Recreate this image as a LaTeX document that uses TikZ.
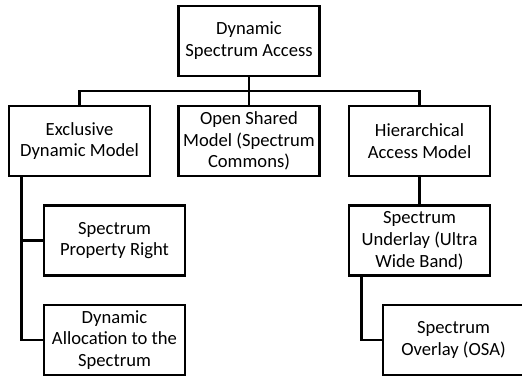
\documentclass[tikz,border=0pt]{standalone}
\usepackage{fontspec}
\setmainfont{Carlito}
\usepackage{xcolor}

\tikzset{
  model box/.style={draw, line width=2.6pt, minimum width=141pt, minimum height=70pt,
      inner sep=1pt, align=center},
  link/.style={line width=2.6pt}
}

\begin{document}
\begin{tikzpicture}[x=1pt, y=-1pt,
      every node/.style={font=\fontsize{18.6}{21.8}\selectfont}]
    \useasboundingbox (0,0) rectangle (522,379);
    % top
    \node[model box] (dsa) at (249,41) {Dynamic\\Spectrum Access};
    % second row
    \node[model box] (edm) at (79.5,141) {Exclusive\\Dynamic Model};
    \node[model box] (osm) at (249,141) {Open Shared\\Model (Spectrum\\Commons)};
    \node[model box] (ham) at (419.5,141) {Hierarchical\\Access Model};
    % sub models
    \node[model box] (spr) at (114.5,240.5) {Spectrum\\Property Right};
    \node[model box] (dal) at (114.5,340) {Dynamic\\Allocation to the\\Spectrum};
    \node[model box] (sud) at (419.5,240.5) {Spectrum\\Underlay (Ultra\\Wide Band)};
    \node[model box] (sov) at (453.5,340) {Spectrum\\Overlay (OSA)};
    \coordinate (bus) at (249,91);
    \draw[link] (dsa.south) -- (osm.north);
    \draw[link] (edm.north) |- (bus) -| (ham.north);
    \draw[link] ([xshift=14pt]edm.south west) |- (spr.west);
    \draw[link] ([xshift=14pt]edm.south west) |- (dal.west);
    \draw[link] (ham.south) -- (sud.north);
    \draw[link] ([xshift=14pt]sud.south west) |- (sov.west);
  \end{tikzpicture}
\end{document}
